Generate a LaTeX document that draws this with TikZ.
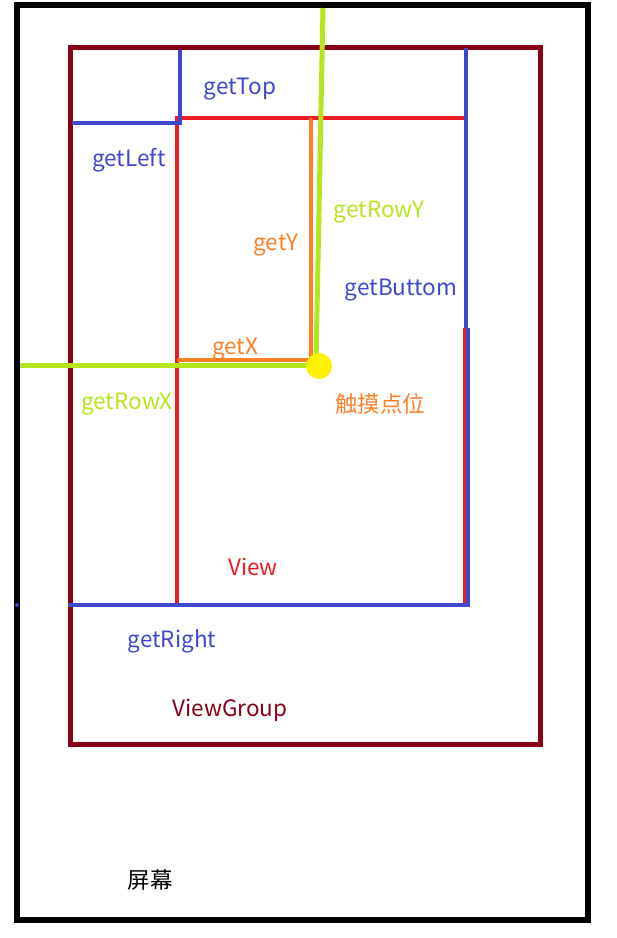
\documentclass[tikz,border=0pt]{standalone}
\usepackage{fontspec}
\setmainfont{Noto Sans CJK SC}
\definecolor{cblue}{HTML}{3F48CC}
\definecolor{cred}{HTML}{ED1C24}
\definecolor{corange}{HTML}{FF7F27}
\definecolor{cgreen}{HTML}{B5E61D}
\definecolor{cdark}{HTML}{880015}
\definecolor{cyellow}{HTML}{FFF200}
\tikzset{
  lbl/.style={inner sep=0pt, font=\fontsize{22.5}{26}\selectfont},
  blueline/.style={draw=cblue, line width=4.5pt},
  redline/.style={draw=cred, line width=4.5pt},
  orangeline/.style={draw=corange, line width=4.5pt, line cap=round},
  greenline/.style={draw=cgreen, line width=5pt},
}
\begin{document}
\begin{tikzpicture}[x=1pt,y=-1pt]
\useasboundingbox (0,0) rectangle (617,938);
% ViewGroup
\draw[cdark, line width=5pt] (70,47) rectangle (540,744);
% screen
\draw[black, line width=6pt] (16.5,5) rectangle (588,920);
% View (red)
\draw[redline] (465,118) -- (177,118) -- (177,605);
\draw[redline] (465,328) -- (465,605);
% blue lines
\draw[blueline] (180,50) -- (180,123) -- (72,123);
\draw[blueline] (466,48) -- (466,328);
\draw[blueline] (468,328) -- (468,605) -- (68,605);
\fill[cblue] (17,605) circle (2);
% orange
\draw[orangeline] (311,120) -- (311,360) -- (179,360);
% green
\draw[greenline] (323,8) -- (316,362);
\draw[greenline] (20,365) -- (316,365);
% touch point
\fill[cyellow] (319,366) circle (13);
% labels
\node[lbl, text=cblue] (top) at (240,89) {getTop};
\node[lbl, text=cblue] (left) at (129,160) {getLeft};
\node[lbl, text=cgreen] (rowy) at (379,212) {getRowY};
\node[lbl, text=corange] (gy) at (276,245) {getY};
\node[lbl, text=cblue] (bottom) at (401,290) {getButtom};
\node[lbl, text=corange] (gx) at (235,349) {getX};
\node[lbl, text=cgreen] (rowx) at (127,404) {getRowX};
\node[lbl, text=corange] (touch) at (380,404) {触摸点位};
\node[lbl, text=cred] (view) at (253,567) {View};
\node[lbl, text=cblue] (right) at (172,641) {getRight};
\node[lbl, text=cdark] (vg) at (230,710) {ViewGroup};
\node[lbl, text=black] (screen) at (150,880) {屏幕};
\end{tikzpicture}
\end{document}
